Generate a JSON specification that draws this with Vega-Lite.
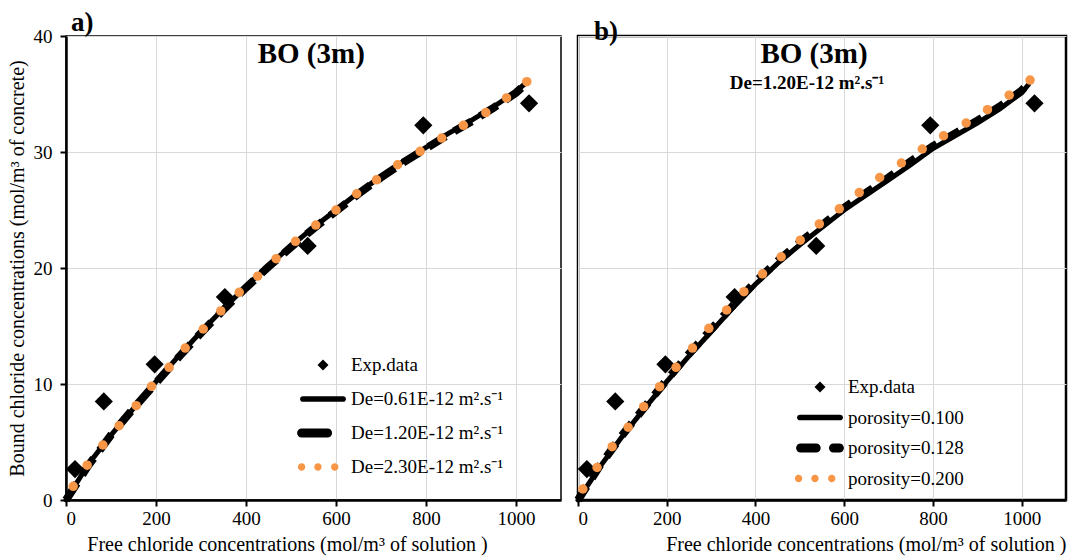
{
  "$schema": "https://vega.github.io/schema/vega-lite/v6.json",
  "background": "white",
  "padding": {"left": 6, "top": 8, "right": 0, "bottom": 0},
  "config": {
    "font": "Liberation Serif",
    "view": {"stroke": "black", "strokeWidth": 2},
    "axis": {
      "labelFont": "Liberation Serif", "labelFontSize": 19, "labelColor": "black",
      "titleFont": "Liberation Serif", "titleFontSize": 20, "titleFontWeight": "normal", "titleColor": "black",
      "gridColor": "#d9d9d9", "gridWidth": 1,
      "domainColor": "black", "domainWidth": 2.5,
      "tickColor": "black", "tickWidth": 2, "tickSize": 6
    },
    "legend": {
      "title": null, "orient": "none", "padding": 0,
      "labelFont": "Liberation Serif", "labelFontSize": 19, "labelColor": "black", "labelLimit": 400, "labelOffset": 8,
      "symbolSize": 1600, "symbolStrokeWidth": 0, "symbolOpacity": 1
    },
    "title": {"font": "Liberation Serif", "color": "black", "fontWeight": "bold"}
  },
  "datasets": {
    "exp": [
      {"x": 20, "y": 2.67, "series": "Exp.data"},
      {"x": 84, "y": 8.5, "series": "Exp.data"},
      {"x": 197, "y": 11.7, "series": "Exp.data"},
      {"x": 353, "y": 17.5, "series": "Exp.data"},
      {"x": 537, "y": 21.9, "series": "Exp.data"},
      {"x": 794, "y": 32.3, "series": "Exp.data"},
      {"x": 1029, "y": 34.2, "series": "Exp.data"}
    ],
    "de061": [
      {"x": 0, "y": 0}, {"x": 50, "y": 3.1}, {"x": 100, "y": 5.6}, {"x": 150, "y": 7.9},
      {"x": 200, "y": 10.2}, {"x": 250, "y": 12.4}, {"x": 300, "y": 14.5}, {"x": 350, "y": 16.5},
      {"x": 400, "y": 18.4}, {"x": 450, "y": 20.2}, {"x": 500, "y": 21.9}, {"x": 550, "y": 23.5},
      {"x": 600, "y": 25.0}, {"x": 650, "y": 26.5}, {"x": 700, "y": 27.9}, {"x": 750, "y": 29.2},
      {"x": 800, "y": 30.4}, {"x": 850, "y": 31.6}, {"x": 900, "y": 32.7}, {"x": 950, "y": 33.9},
      {"x": 1000, "y": 35.2}, {"x": 1020, "y": 35.9}
    ],
    "de120": [
      {"x": 0, "y": 0}, {"x": 50, "y": 3.0}, {"x": 100, "y": 5.6}, {"x": 150, "y": 7.9},
      {"x": 200, "y": 10.1}, {"x": 250, "y": 12.3}, {"x": 300, "y": 14.4}, {"x": 350, "y": 16.4},
      {"x": 400, "y": 18.3}, {"x": 450, "y": 20.1}, {"x": 500, "y": 21.8}, {"x": 550, "y": 23.4},
      {"x": 600, "y": 24.9}, {"x": 650, "y": 26.4}, {"x": 700, "y": 27.8}, {"x": 750, "y": 29.1},
      {"x": 800, "y": 30.3}, {"x": 850, "y": 31.5}, {"x": 900, "y": 32.6}, {"x": 950, "y": 33.8},
      {"x": 1000, "y": 35.1}, {"x": 1020, "y": 35.8}
    ],
    "de230": [
      {"x": 16, "y": 1.18}, {"x": 47, "y": 3.0}, {"x": 82, "y": 4.74}, {"x": 118, "y": 6.4},
      {"x": 156, "y": 8.13}, {"x": 190, "y": 9.8}, {"x": 229, "y": 11.44}, {"x": 265, "y": 13.1},
      {"x": 305, "y": 14.74}, {"x": 344, "y": 16.3}, {"x": 385, "y": 17.9}, {"x": 426, "y": 19.3},
      {"x": 467, "y": 20.8}, {"x": 510, "y": 22.3}, {"x": 555, "y": 23.7}, {"x": 600, "y": 25.0},
      {"x": 646, "y": 26.4}, {"x": 690, "y": 27.6}, {"x": 737, "y": 28.9}, {"x": 787, "y": 30.06},
      {"x": 835, "y": 31.2}, {"x": 883, "y": 32.3}, {"x": 933, "y": 33.4}, {"x": 979, "y": 34.66},
      {"x": 1024, "y": 36.06}
    ],
    "por100": [
      {"x": 0, "y": 0}, {"x": 50, "y": 2.9}, {"x": 100, "y": 5.5}, {"x": 150, "y": 7.9},
      {"x": 200, "y": 10.2}, {"x": 250, "y": 12.4}, {"x": 300, "y": 14.5}, {"x": 350, "y": 16.6},
      {"x": 400, "y": 18.6}, {"x": 450, "y": 20.4}, {"x": 500, "y": 22.0}, {"x": 550, "y": 23.5},
      {"x": 600, "y": 25.0}, {"x": 650, "y": 26.3}, {"x": 700, "y": 27.6}, {"x": 750, "y": 28.9},
      {"x": 800, "y": 30.3}, {"x": 850, "y": 31.4}, {"x": 900, "y": 32.5}, {"x": 950, "y": 33.7},
      {"x": 1000, "y": 35.1}, {"x": 1015, "y": 35.8}
    ],
    "por128": [
      {"x": 0, "y": 0}, {"x": 50, "y": 3.0}, {"x": 100, "y": 5.6}, {"x": 150, "y": 8.0},
      {"x": 200, "y": 10.35}, {"x": 250, "y": 12.6}, {"x": 300, "y": 14.7}, {"x": 350, "y": 16.8},
      {"x": 400, "y": 18.8}, {"x": 450, "y": 20.6}, {"x": 500, "y": 22.2}, {"x": 550, "y": 23.7},
      {"x": 600, "y": 25.2}, {"x": 650, "y": 26.5}, {"x": 700, "y": 27.8}, {"x": 750, "y": 29.2},
      {"x": 800, "y": 30.5}, {"x": 850, "y": 31.6}, {"x": 900, "y": 32.7}, {"x": 950, "y": 33.9},
      {"x": 1000, "y": 35.3}, {"x": 1015, "y": 35.9}
    ],
    "por200": [
      {"x": 11, "y": 0.95}, {"x": 43, "y": 2.8}, {"x": 77, "y": 4.6}, {"x": 113, "y": 6.27},
      {"x": 148, "y": 8.05}, {"x": 184, "y": 9.77}, {"x": 221, "y": 11.44}, {"x": 258, "y": 13.1},
      {"x": 295, "y": 14.8}, {"x": 335, "y": 16.38}, {"x": 374, "y": 17.96}, {"x": 416, "y": 19.5},
      {"x": 458, "y": 20.97}, {"x": 501, "y": 22.4}, {"x": 544, "y": 23.8}, {"x": 589, "y": 25.1},
      {"x": 634, "y": 26.5}, {"x": 680, "y": 27.8}, {"x": 729, "y": 29.05}, {"x": 776, "y": 30.26},
      {"x": 824, "y": 31.4}, {"x": 875, "y": 32.5}, {"x": 923, "y": 33.65}, {"x": 972, "y": 34.9},
      {"x": 1019, "y": 36.2}
    ],
    "labelsA": [
      {"x": 545, "y": 37.7, "text": "BO (3m)"}
    ],
    "labelsB": [
      {"x": 532, "y": 37.7, "text": "BO (3m)"}
    ],
    "noteB": [
      {"x": 516, "y": 35.4, "text": "De=1.20E-12 m².s⁻¹"}
    ]
  },
  "spacing": -2,
  "hconcat": [
    {
      "width": 495,
      "height": 464,
      "title": {"text": "a)", "anchor": "start", "frame": "group", "dx": 5, "offset": -10, "fontSize": 27},
      "view": {"stroke": "black", "strokeWidth": 1.5},
      "encoding": {
        "x": {
          "field": "x", "type": "quantitative",
          "scale": {"domain": [0, 1100], "nice": false},
          "axis": {"values": [0, 200, 400, 600, 800, 1000], "format": "d", "title": "Free chloride concentrations (mol/m³ of solution )", "titleX": 221, "labelPadding": 3, "titlePadding": 6}
        },
        "y": {
          "field": "y", "type": "quantitative",
          "scale": {"domain": [0, 40], "nice": false},
          "axis": {"values": [0, 10, 20, 30, 40], "title": "Bound chloride concentrations (mol/m³ of  concrete)", "labelPadding": 8, "titlePadding": 6}
        }
      },
      "layer": [
        {
          "data": {"name": "exp"},
          "mark": {"type": "point", "filled": true, "size": 4346, "opacity": 1, "strokeWidth": 0},
          "encoding": {
            "fill": {
              "field": "series", "type": "nominal",
              "scale": {
                "domain": ["Exp.data", "De=0.61E-12  m².s⁻¹", "De=1.20E-12  m².s⁻¹", "De=2.30E-12  m².s⁻¹"],
                "range": ["black", "black", "black", "#F79646"]
              },
              "legend": {"legendX": 237, "legendY": 309, "rowPadding": 4}
            },
            "shape": {
              "field": "series", "type": "nominal",
              "scale": {
                "domain": ["Exp.data", "De=0.61E-12  m².s⁻¹", "De=1.20E-12  m².s⁻¹", "De=2.30E-12  m².s⁻¹"],
                "range": [
                  "M-0.276,0L0,-0.276L0.276,0L0,0.276Z",
                  "M-1.007,-0.143H1.007A0.143,0.143 0 0 1 1.007,0.143H-1.007A0.143,0.143 0 0 1 -1.007,-0.143Z",
                  "M-1.07,-0.225H0.23A0.225,0.225 0 0 1 0.23,0.225H-1.07A0.225,0.225 0 0 1 -1.07,-0.225Z",
                  "M-1.254,0A0.184,0.184 0 1 0 -0.886,0A0.184,0.184 0 1 0 -1.254,0ZM-0.437,0A0.184,0.184 0 1 0 -0.069,0A0.184,0.184 0 1 0 -0.437,0ZM0.403,0A0.184,0.184 0 1 0 0.771,0A0.184,0.184 0 1 0 0.403,0Z"
                ]
              },
              "legend": {"legendX": 237, "legendY": 309, "rowPadding": 4}
            }
          }
        },
        {
          "data": {"name": "de061"},
          "mark": {"type": "line", "strokeWidth": 5, "strokeCap": "round", "color": "black"}
        },
        {
          "data": {"name": "de120"},
          "mark": {"type": "line", "strokeWidth": 8, "strokeDash": [20, 10], "color": "black"}
        },
        {
          "data": {"name": "de230"},
          "mark": {"type": "circle", "size": 90, "opacity": 1, "color": "#F79646"}
        },
        {
          "data": {"name": "labelsA"},
          "mark": {"type": "text", "font": "Liberation Serif", "fontSize": 29, "fontWeight": "bold", "align": "center", "baseline": "alphabetic", "color": "black"},
          "encoding": {"text": {"field": "text"}}
        }
      ]
    },
    {
      "width": 488,
      "height": 464,
      "title": {"text": "b)", "anchor": "start", "frame": "group", "dx": 16, "offset": -10, "fontSize": 27},
      "view": {"stroke": "black", "strokeWidth": 2.5},
      "encoding": {
        "x": {
          "field": "x", "type": "quantitative",
          "scale": {"domain": [0, 1100], "nice": false},
          "axis": {"values": [0, 200, 400, 600, 800, 1000], "format": "d", "title": "Free chloride concentrations (mol/m³ of solution )", "titleAnchor": "end", "labelPadding": 3, "titlePadding": 6}
        },
        "y": {
          "field": "y", "type": "quantitative",
          "scale": {"domain": [0, 40], "nice": false},
          "axis": {"values": [0, 10, 20, 30, 40], "title": null, "labels": false, "ticks": false, "domain": false, "grid": true}
        }
      },
      "layer": [
        {
          "data": {"name": "exp"},
          "mark": {"type": "point", "filled": true, "size": 4346, "opacity": 1, "strokeWidth": 0},
          "encoding": {
            "fill": {
              "field": "series", "type": "nominal",
              "scale": {
                "domain": ["Exp.data", "porosity=0.100", "porosity=0.128", "porosity=0.200"],
                "range": ["black", "black", "black", "#F79646"]
              },
              "legend": {"legendX": 222, "legendY": 331, "rowPadding": 0.5}
            },
            "shape": {
              "field": "series", "type": "nominal",
              "scale": {
                "domain": ["Exp.data", "porosity=0.100", "porosity=0.128", "porosity=0.200"],
                "range": [
                  "M-0.276,0L0,-0.276L0.276,0L0,0.276Z",
                  "M-1.007,-0.143H1.007A0.143,0.143 0 0 1 1.007,0.143H-1.007A0.143,0.143 0 0 1 -1.007,-0.143Z",
                  "M-0.971,-0.225H-0.191A0.225,0.225 0 0 1 -0.191,0.225H-0.971A0.225,0.225 0 0 1 -0.971,-0.225ZM0.674,-0.225H0.971A0.225,0.225 0 0 1 0.971,0.225H0.674A0.225,0.225 0 0 1 0.674,-0.225Z",
                  "M-1.254,0A0.184,0.184 0 1 0 -0.886,0A0.184,0.184 0 1 0 -1.254,0ZM-0.437,0A0.184,0.184 0 1 0 -0.069,0A0.184,0.184 0 1 0 -0.437,0ZM0.403,0A0.184,0.184 0 1 0 0.771,0A0.184,0.184 0 1 0 0.403,0Z"
                ]
              },
              "legend": {"legendX": 222, "legendY": 331, "rowPadding": 0.5}
            }
          }
        },
        {
          "data": {"name": "por100"},
          "mark": {"type": "line", "strokeWidth": 5, "strokeCap": "round", "color": "black"}
        },
        {
          "data": {"name": "por128"},
          "mark": {"type": "line", "strokeWidth": 8, "strokeDash": [16, 10], "color": "black"}
        },
        {
          "data": {"name": "por200"},
          "mark": {"type": "circle", "size": 90, "opacity": 1, "color": "#F79646"}
        },
        {
          "data": {"name": "labelsB"},
          "mark": {"type": "text", "font": "Liberation Serif", "fontSize": 29, "fontWeight": "bold", "align": "center", "baseline": "alphabetic", "color": "black"},
          "encoding": {"text": {"field": "text"}}
        },
        {
          "data": {"name": "noteB"},
          "mark": {"type": "text", "font": "Liberation Serif", "fontSize": 19, "fontWeight": "bold", "align": "center", "baseline": "alphabetic", "color": "black"},
          "encoding": {"text": {"field": "text"}}
        }
      ]
    }
  ],
  "resolve": {
    "scale": {"fill": "independent", "shape": "independent", "x": "independent", "y": "independent"},
    "legend": {"fill": "independent", "shape": "independent"}
  }
}
